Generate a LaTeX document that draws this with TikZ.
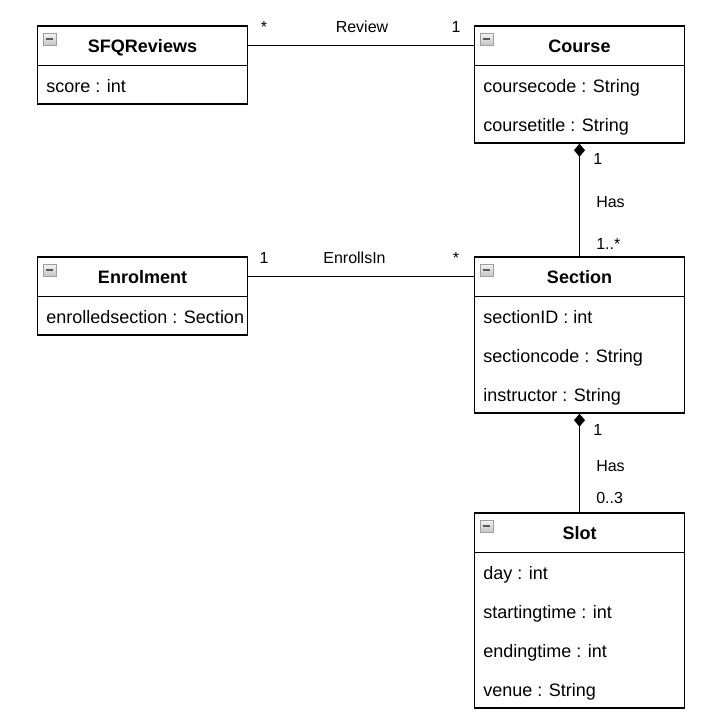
\documentclass[tikz,border=0pt]{standalone}
\usepackage{fontspec}
\setmainfont{Liberation Sans}
\usetikzlibrary{fit,arrows.meta}
\tikzset{
  classbox/.style={draw, line width=1.1pt, inner sep=0pt},
  header/.style={inner sep=0pt},
  title/.style={anchor=base, inner sep=0pt, font=\fontsize{13.5}{16}\selectfont\bfseries},
  attr/.style={anchor=base west, inner sep=0pt, font=\fontsize{13.5}{16}\selectfont},
  lbl/.style={anchor=base, inner sep=0pt, font=\fontsize{12}{14}\selectfont},
  lblw/.style={anchor=base west, inner sep=0pt, font=\fontsize{12}{14}\selectfont},
  collapse/.style={draw=gray!75, line width=0.5pt, top color=gray!8, bottom color=gray!45,
    minimum width=9.75pt, minimum height=9pt, inner sep=0pt,
    path picture={\draw[line width=1.5pt, black!65]
      ([xshift=2.2pt]path picture bounding box.west) --
      ([xshift=-2.2pt]path picture bounding box.east);}},
  link/.style={line width=1.1pt},
  comp/.style={link, {Diamond[length=9.75pt,width=8.25pt]}-},
}
\begin{document}
\begin{tikzpicture}[x=0.75pt,y=-0.75pt]
\useasboundingbox (0,0) rectangle (719,725);

% ---- SFQReviews
\node[classbox, fit={(37.5,26) (247.5,104)}] (sfq) {};
\node[header, fit={(37.5,26) (247.5,65)}] (sfqh) {};
\draw[line width=1.1pt] (sfqh.south west) -- (sfqh.south east);
\node[collapse] (sfqicon) at (49.5,39) {};
\node[title] (sfqt) at (142.5,52.5) {SFQReviews};
\node[attr] (sfqa1) at (46,92) {score : int};

% ---- Course
\node[classbox, fit={(474.5,26) (684.5,143)}] (course) {};
\node[header, fit={(474.5,26) (684.5,65)}] (courseh) {};
\draw[line width=1.1pt] (courseh.south west) -- (courseh.south east);
\node[collapse] (courseicon) at (486.5,39) {};
\node[title] (courset) at (579.5,52.5) {Course};
\node[attr] (coursea1) at (483,92) {coursecode : String};
\node[attr] (coursea2) at (483,131) {coursetitle : String};

% ---- Enrolment
\node[classbox, fit={(37.5,257) (247.5,335)}] (enrol) {};
\node[header, fit={(37.5,257) (247.5,296)}] (enrolh) {};
\draw[line width=1.1pt] (enrolh.south west) -- (enrolh.south east);
\node[collapse] (enrolicon) at (49.5,270) {};
\node[title] (enrolt) at (142.5,283.5) {Enrolment};
\node[attr] (enrola1) at (46,323) {enrolledsection : Section};

% ---- Section
\node[classbox, fit={(474.5,257) (684.5,413)}] (section) {};
\node[header, fit={(474.5,257) (684.5,296)}] (sectionh) {};
\draw[line width=1.1pt] (sectionh.south west) -- (sectionh.south east);
\node[collapse] (sectionicon) at (486.5,270) {};
\node[title] (sectiont) at (579.5,283.5) {Section};
\node[attr] (sectiona1) at (483,323) {sectionID : int};
\node[attr] (sectiona2) at (483,362) {sectioncode : String};
\node[attr] (sectiona3) at (483,401) {instructor : String};

% ---- Slot
\node[classbox, fit={(474.5,513) (684.5,708)}] (slot) {};
\node[header, fit={(474.5,513) (684.5,552)}] (sloth) {};
\draw[line width=1.1pt] (sloth.south west) -- (sloth.south east);
\node[collapse] (sloticon) at (486.5,526) {};
\node[title] (slott) at (579.5,539.5) {Slot};
\node[attr] (slota1) at (483,579) {day : int};
\node[attr] (slota2) at (483,618) {startingtime : int};
\node[attr] (slota3) at (483,657) {endingtime : int};
\node[attr] (slota4) at (483,696) {venue : String};

% ---- associations
\draw[link] (sfqh.east) -- (courseh.west);
\node[lbl] (revstar) at (264,32) {*};
\node[lbl] (revname) at (362,32) {Review};
\node[lbl] (revone) at (456,32) {1};

\draw[link] (enrolh.east) -- (sectionh.west);
\node[lbl] (enrone) at (264,263) {1};
\node[lbl] (enrname) at (354.5,263) {EnrollsIn};
\node[lbl] (enrstar) at (456,263) {*};

% ---- compositions
\draw[comp] (course.south) -- (section.north);
\node[lblw] (has1one) at (593,164) {1};
\node[lblw] (has1name) at (596,207) {Has};
\node[lblw] (has1many) at (596,249) {1..*};

\draw[comp] (section.south) -- (slot.north);
\node[lblw] (has2one) at (593,435) {1};
\node[lblw] (has2name) at (596,471) {Has};
\node[lblw] (has2many) at (596,503) {0..3};
\end{tikzpicture}
\end{document}
